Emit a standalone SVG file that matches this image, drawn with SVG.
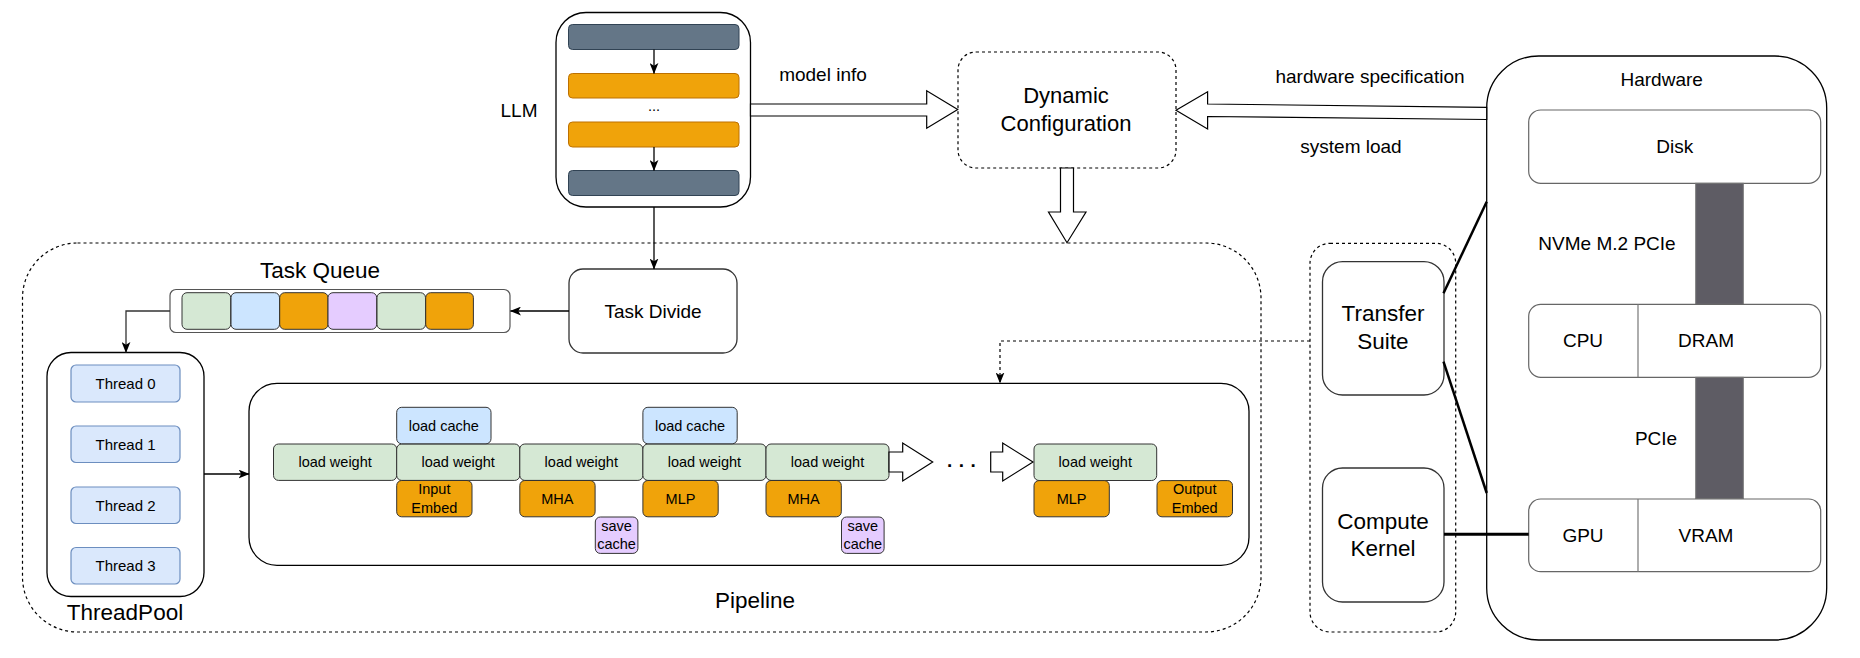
<svg xmlns="http://www.w3.org/2000/svg" width="1860" height="658" viewBox="0 0 1860 658">
<defs>
<style>
text{font-family:"Liberation Sans",Arial,Helvetica,sans-serif;fill:#000;text-anchor:middle;dominant-baseline:central}
.bl{dominant-baseline:alphabetic}
.s14{font-size:14.5px}
.s15{font-size:15px}
.s19{font-size:19px}
.s21{font-size:22px}
.s22{font-size:22.5px}
.box{fill:#fff;stroke:#000;stroke-width:1.3}
.gbox{fill:#fff;stroke:#333;stroke-width:1.3}
.dash{fill:none;stroke:#000;stroke-width:1.2;stroke-dasharray:3 3}
.gw{fill:#d5e8d4;stroke:#333;stroke-width:1}
.lc{fill:#cce5ff;stroke:#333;stroke-width:1}
.or{fill:#f0a30a;stroke:#333;stroke-width:1}
.sc{fill:#e5ccff;stroke:#333;stroke-width:1}
.th{fill:#dae8fc;stroke:#6c8ebf;stroke-width:1.2}
.dk{fill:#647687;stroke:#314354;stroke-width:1}
.ob{fill:#f0a30a;stroke:#BD7000;stroke-width:1}
.hw{fill:#fff;stroke:#666;stroke-width:1.2}
.bar{fill:#5e5c64;stroke:#777;stroke-width:1}
.ln{fill:none;stroke:#000;stroke-width:1.3}
.hol{fill:#fff;stroke:#000;stroke-width:1.2}
.thick{fill:none;stroke:#000;stroke-width:2.5}
</style>
<marker id="arr" viewBox="0 0 10 8" refX="9.5" refY="4" markerWidth="11" markerHeight="9" orient="auto" markerUnits="userSpaceOnUse">
<path d="M0,0 L10,4 L0,8 L2.5,4 z" fill="#000"/>
</marker>
</defs>

<!-- containers -->
<g id="pipeline-container">
<rect class="dash" x="22.5" y="243" width="1238.5" height="389" rx="55"/>
</g>
<g id="transfer-container">
<rect class="dash" x="1310" y="243.3" width="145.7" height="388.7" rx="20"/>
</g>

<g id="llm">
<rect class="box" x="556" y="12.5" width="194.5" height="194.5" rx="30"/>
<rect class="dk" x="568.5" y="24.5" width="170.5" height="25" rx="4"/>
<rect class="ob" x="568.5" y="73.5" width="170.5" height="24.5" rx="4"/>
<text class="s14 bl" x="654" y="111">...</text>
<rect class="ob" x="568.5" y="122" width="170.5" height="25" rx="4"/>
<rect class="dk" x="568.5" y="170.5" width="170.5" height="25" rx="4"/>
<line class="ln" x1="654" y1="49.5" x2="654" y2="73.5" marker-end="url(#arr)"/>
<line class="ln" x1="654" y1="147" x2="654" y2="170.5" marker-end="url(#arr)"/>
<text class="s19" x="519" y="110">LLM</text>
</g>

<g id="dynamic-configuration">
<rect class="dash" x="958" y="52" width="218" height="116" rx="18"/>
<text class="s21" x="1066" y="95">Dynamic</text>
<text class="s21" x="1066" y="123.5">Configuration</text>
</g>

<g id="task-divide">
<rect class="gbox" x="569" y="269" width="168" height="84" rx="14"/>
<text class="s19" x="653" y="311">Task Divide</text>
</g>

<g id="task-queue">
<text class="s22" x="320" y="270">Task Queue</text>
<rect fill="#fff" stroke="#555" stroke-width="1.2" x="170" y="289.5" width="340" height="43" rx="6"/>
<rect class="gw" x="182" y="292.7" width="48.7" height="36.6" rx="5"/>
<rect class="lc" x="231" y="292.7" width="48.5" height="36.6" rx="5"/>
<rect class="or" x="279.7" y="292.7" width="48.3" height="36.6" rx="5"/>
<rect class="sc" x="328" y="292.7" width="48.7" height="36.6" rx="5"/>
<rect class="gw" x="377" y="292.7" width="48.5" height="36.6" rx="5"/>
<rect class="or" x="425.7" y="292.7" width="47.7" height="36.6" rx="5"/>
</g>

<g id="threadpool">
<rect class="box" x="47" y="352.5" width="157" height="244" rx="24"/>
<rect class="th" x="71" y="365" width="109" height="37" rx="5"/>
<text class="s15" x="125.5" y="383.5">Thread 0</text>
<rect class="th" x="71" y="426" width="109" height="36.5" rx="5"/>
<text class="s15" x="125.5" y="444.2">Thread 1</text>
<rect class="th" x="71" y="487" width="109" height="36.5" rx="5"/>
<text class="s15" x="125.5" y="505.2">Thread 2</text>
<rect class="th" x="71" y="547.5" width="109" height="36.5" rx="5"/>
<text class="s15" x="125.5" y="565.7">Thread 3</text>
<text class="s22" x="125" y="612.5">ThreadPool</text>
</g>

<g id="pipeline">
<rect class="box" x="249" y="383.3" width="1000" height="182" rx="28"/>
<text class="s22" x="755" y="600">Pipeline</text>
<rect class="gw" x="273.5" y="444" width="123.2" height="36.4" rx="5"/>
<text class="s14" x="335.1" y="462.2">load weight</text>
<rect class="gw" x="396.7" y="444" width="123.1" height="36.4" rx="5"/>
<text class="s14" x="458.2" y="462.2">load weight</text>
<rect class="gw" x="519.8" y="444" width="123.1" height="36.4" rx="5"/>
<text class="s14" x="581.3" y="462.2">load weight</text>
<rect class="gw" x="642.9" y="444" width="123.1" height="36.4" rx="5"/>
<text class="s14" x="704.4" y="462.2">load weight</text>
<rect class="gw" x="766" y="444" width="123" height="36.4" rx="5"/>
<text class="s14" x="827.5" y="462.2">load weight</text>
<rect class="lc" x="396.7" y="407.3" width="94.3" height="36.5" rx="5"/>
<text class="s14" x="443.8" y="425.5">load cache</text>
<rect class="lc" x="642.9" y="407.3" width="94.3" height="36.5" rx="5"/>
<text class="s14" x="690" y="425.5">load cache</text>
<rect class="or" x="396.7" y="480.5" width="75.3" height="36.3" rx="5"/>
<text class="s14" x="434.3" y="489.3">Input</text>
<text class="s14" x="434.3" y="507.5">Embed</text>
<rect class="or" x="519.8" y="480.5" width="75.3" height="36.3" rx="5"/>
<text class="s14" x="557.4" y="498.6">MHA</text>
<rect class="or" x="642.9" y="480.5" width="75.3" height="36.3" rx="5"/>
<text class="s14" x="680.5" y="498.6">MLP</text>
<rect class="or" x="766" y="480.5" width="75.3" height="36.3" rx="5"/>
<text class="s14" x="803.6" y="498.6">MHA</text>
<rect class="sc" x="595.3" y="517" width="42.6" height="36.4" rx="5"/>
<text class="s14" x="616.6" y="526.2">save</text>
<text class="s14" x="616.6" y="543.6">cache</text>
<rect class="sc" x="841.5" y="517" width="42.6" height="36.4" rx="5"/>
<text class="s14" x="862.8" y="526.2">save</text>
<text class="s14" x="862.8" y="543.6">cache</text>
<polygon class="hol" points="889,452 902.7,452 902.7,443 932.7,462 902.7,481 902.7,472 889,472"/>
<text class="s19 bl" x="947" y="467" style="text-anchor:start;font-weight:bold;letter-spacing:6.5px">...</text>
<polygon class="hol" points="990.7,452 1002.7,452 1002.7,443 1033,462 1002.7,481 1002.7,472 990.7,472"/>
<rect class="gw" x="1034" y="444" width="122.7" height="36.5" rx="5"/>
<text class="s14" x="1095.3" y="462.2">load weight</text>
<rect class="or" x="1034" y="480.6" width="75.3" height="36.2" rx="5"/>
<text class="s14" x="1071.6" y="498.6">MLP</text>
<rect class="or" x="1157" y="480.6" width="75.5" height="36.2" rx="5"/>
<text class="s14" x="1194.7" y="489.2">Output</text>
<text class="s14" x="1194.7" y="507.6">Embed</text>
</g>

<g id="transfer-suite">
<rect class="gbox" x="1322.5" y="261.7" width="121.5" height="133.3" rx="20"/>
<text class="s22" x="1383" y="313.5">Transfer</text>
<text class="s22" x="1383" y="341">Suite</text>
</g>

<g id="compute-kernel">
<rect class="gbox" x="1322.5" y="468" width="121.5" height="134" rx="20"/>
<text class="s22" x="1383" y="521.5">Compute</text>
<text class="s22" x="1383" y="548">Kernel</text>
</g>

<g id="hardware">
<rect fill="#fff" stroke="#000" stroke-width="1.3" x="1486.7" y="56" width="340" height="584" rx="52"/>
<text class="s19" x="1661.7" y="79">Hardware</text>
<rect class="hw" x="1528.7" y="110" width="292" height="73.3" rx="12"/>
<text class="s19" x="1674.7" y="146.7">Disk</text>
<rect class="bar" x="1695.7" y="183.3" width="47.6" height="121"/>
<text class="s19" x="1607" y="243.3">NVMe M.2 PCIe</text>
<rect class="hw" x="1528.7" y="304.3" width="292" height="73" rx="12"/>
<line stroke="#777" stroke-width="1.2" x1="1638" y1="304.3" x2="1638" y2="377.3"/>
<text class="s19" x="1583" y="340.8">CPU</text>
<text class="s19" x="1706" y="340.8">DRAM</text>
<rect class="bar" x="1695.7" y="377.3" width="47.6" height="121.5"/>
<text class="s19" x="1656" y="438.7">PCIe</text>
<rect class="hw" x="1528.7" y="499" width="292" height="72.7" rx="12"/>
<line stroke="#777" stroke-width="1.2" x1="1638" y1="499" x2="1638" y2="571.7"/>
<text class="s19" x="1583" y="535">GPU</text>
<text class="s19" x="1706" y="535">VRAM</text>
</g>

<g id="connectors">
<polygon class="hol" points="750.5,104 926.7,104 926.7,90.7 957.7,109.5 926.7,128.3 926.7,116 750.5,116"/>
<text class="s19" x="823" y="74.5">model info</text>
<polygon class="hol" points="1486.7,107.3 1207.6,104 1207.6,91.7 1176,110.3 1207.6,129 1207.6,116.5 1486.7,119.5"/>
<text class="s19" x="1370" y="76.5">hardware specification</text>
<text class="s19" x="1351" y="146">system load</text>
<polygon class="hol" points="1060.5,168 1073.5,168 1073.5,212 1086,212 1067,242.7 1048.5,212 1060.5,212"/>
<line class="ln" x1="654" y1="207" x2="654" y2="269" marker-end="url(#arr)"/>
<line class="ln" x1="569" y1="311" x2="510.5" y2="311" marker-end="url(#arr)"/>
<polyline fill="none" stroke="#333" stroke-width="1.3" points="170,311 126,311 126,352.5" marker-end="url(#arr)"/>
<line class="ln" x1="204" y1="474" x2="249" y2="474" marker-end="url(#arr)"/>
<polyline fill="none" stroke="#000" stroke-width="1.2" stroke-dasharray="3 3" points="1310,341 1000,341 1000,383" marker-end="url(#arr)"/>
<line class="thick" x1="1443.5" y1="293.3" x2="1486.7" y2="201.7"/>
<line class="thick" x1="1443.5" y1="361.7" x2="1486.7" y2="493"/>
<line fill="none" stroke="#000" stroke-width="3" x1="1444" y1="534.3" x2="1528.7" y2="534.3"/>
</g>
</svg>
